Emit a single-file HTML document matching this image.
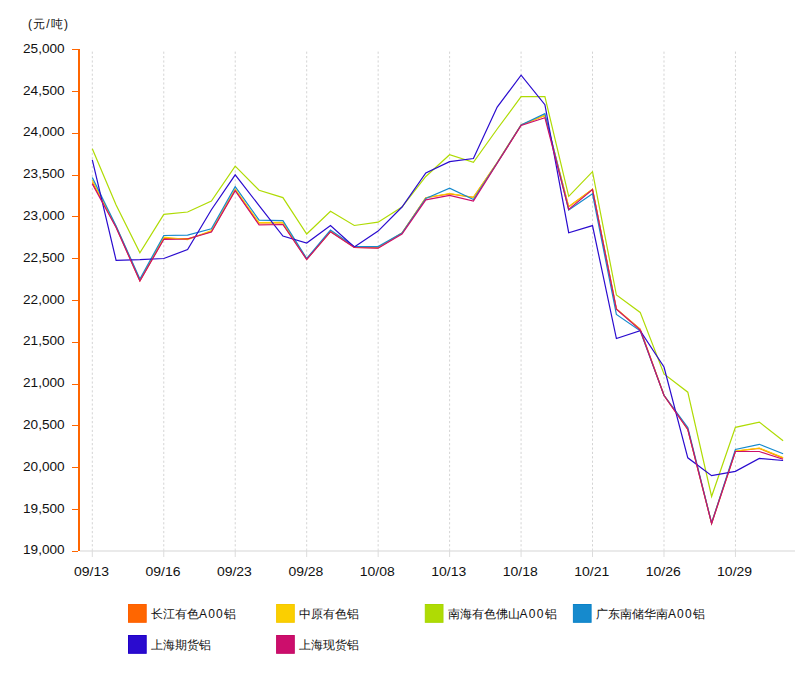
<!DOCTYPE html>
<html><head><meta charset="utf-8"><style>
html,body{margin:0;padding:0;background:#fff;width:808px;height:693px;overflow:hidden}
svg{display:block;font-family:"Liberation Sans",sans-serif;fill:#111}
text{fill:#111}
</style></head><body>
<svg width="808" height="693" viewBox="0 0 808 693">
<line x1="92.31" y1="51.6" x2="92.31" y2="549" stroke="#d4d4d4" stroke-width="1" stroke-dasharray="2.2,2.198"/>
<line x1="163.77" y1="51.6" x2="163.77" y2="549" stroke="#d4d4d4" stroke-width="1" stroke-dasharray="2.2,2.198"/>
<line x1="235.23" y1="51.6" x2="235.23" y2="549" stroke="#d4d4d4" stroke-width="1" stroke-dasharray="2.2,2.198"/>
<line x1="306.69" y1="51.6" x2="306.69" y2="549" stroke="#d4d4d4" stroke-width="1" stroke-dasharray="2.2,2.198"/>
<line x1="378.15" y1="51.6" x2="378.15" y2="549" stroke="#d4d4d4" stroke-width="1" stroke-dasharray="2.2,2.198"/>
<line x1="449.61" y1="51.6" x2="449.61" y2="549" stroke="#d4d4d4" stroke-width="1" stroke-dasharray="2.2,2.198"/>
<line x1="521.07" y1="51.6" x2="521.07" y2="549" stroke="#d4d4d4" stroke-width="1" stroke-dasharray="2.2,2.198"/>
<line x1="592.53" y1="51.6" x2="592.53" y2="549" stroke="#d4d4d4" stroke-width="1" stroke-dasharray="2.2,2.198"/>
<line x1="663.99" y1="51.6" x2="663.99" y2="549" stroke="#d4d4d4" stroke-width="1" stroke-dasharray="2.2,2.198"/>
<line x1="735.45" y1="51.6" x2="735.45" y2="549" stroke="#d4d4d4" stroke-width="1" stroke-dasharray="2.2,2.198"/>
<line x1="80" y1="551" x2="795.0" y2="551" stroke="#e3e3e3" stroke-width="1.6"/>
<line x1="92.31" y1="549" x2="92.31" y2="557" stroke="#dcdcdc" stroke-width="1"/>
<line x1="163.77" y1="549" x2="163.77" y2="557" stroke="#dcdcdc" stroke-width="1"/>
<line x1="235.23" y1="549" x2="235.23000000000002" y2="557" stroke="#dcdcdc" stroke-width="1"/>
<line x1="306.69" y1="549" x2="306.69" y2="557" stroke="#dcdcdc" stroke-width="1"/>
<line x1="378.15" y1="549" x2="378.15" y2="557" stroke="#dcdcdc" stroke-width="1"/>
<line x1="449.61" y1="549" x2="449.61" y2="557" stroke="#dcdcdc" stroke-width="1"/>
<line x1="521.07" y1="549" x2="521.07" y2="557" stroke="#dcdcdc" stroke-width="1"/>
<line x1="592.53" y1="549" x2="592.53" y2="557" stroke="#dcdcdc" stroke-width="1"/>
<line x1="663.99" y1="549" x2="663.99" y2="557" stroke="#dcdcdc" stroke-width="1"/>
<line x1="735.45" y1="549" x2="735.4499999999999" y2="557" stroke="#dcdcdc" stroke-width="1"/>
<polyline points="92.3,182.5 116.1,227.0 139.9,281.0 163.8,238.6 187.6,238.7 211.4,231.5 235.2,190.0 259.1,224.0 282.9,224.0 306.7,259.3 330.5,231.5 354.3,247.5 378.1,248.0 402.0,233.1 425.8,197.7 449.6,193.8 473.4,197.4 497.2,162.5 521.1,124.9 544.9,115.4 568.7,206.8 592.5,189.2 616.4,309.0 640.2,329.1 664.0,395.3 687.8,429.3 711.6,523.3 735.4,451.2 759.3,448.4 783.1,458.1" fill="none" stroke="#ff6600" stroke-width="1.2" stroke-linejoin="miter"/>
<polyline points="92.3,180.3 116.1,226.5 139.9,280.0 163.8,237.2 187.6,239.7 211.4,230.5 235.2,189.0 259.1,222.7 282.9,222.4 306.7,259.0 330.5,231.0 354.3,247.0 378.1,247.5 402.0,233.0 425.8,197.7 449.6,193.5 473.4,197.4 497.2,162.5 521.1,124.9 544.9,115.4 568.7,206.8 592.5,189.2 616.4,309.0 640.2,329.5 664.0,395.3 687.8,429.0 711.6,523.3 735.4,451.0 759.3,448.0 783.1,457.5" fill="none" stroke="#fbcf00" stroke-width="1.2" stroke-linejoin="miter"/>
<polyline points="92.3,148.7 116.1,205.0 139.9,252.8 163.8,214.4 187.6,212.0 211.4,201.1 235.2,166.1 259.1,190.2 282.9,197.6 306.7,234.0 330.5,211.2 354.3,225.5 378.1,222.2 402.0,207.1 425.8,176.5 449.6,154.8 473.4,162.4 497.2,129.0 521.1,96.7 544.9,96.7 568.7,196.4 592.5,171.7 616.4,295.0 640.2,312.4 664.0,374.0 687.8,392.2 711.6,496.5 735.4,427.3 759.3,422.1 783.1,440.8" fill="none" stroke="#afdb04" stroke-width="1.2" stroke-linejoin="miter"/>
<polyline points="92.3,177.4 116.1,226.0 139.9,279.0 163.8,235.5 187.6,235.2 211.4,228.8 235.2,186.7 259.1,220.1 282.9,220.6 306.7,258.5 330.5,230.0 354.3,246.5 378.1,246.6 402.0,233.0 425.8,198.4 449.6,188.1 473.4,199.6 497.2,162.8 521.1,124.9 544.9,113.7 568.7,210.0 592.5,193.8 616.4,314.5 640.2,330.8 664.0,395.3 687.8,427.5 711.6,523.0 735.4,449.4 759.3,444.3 783.1,453.8" fill="none" stroke="#168acd" stroke-width="1.2" stroke-linejoin="miter"/>
<polyline points="92.3,159.9 116.1,260.3 139.9,259.7 163.8,258.5 187.6,249.6 211.4,209.7 235.2,174.8 259.1,205.6 282.9,236.1 306.7,243.0 330.5,225.5 354.3,246.9 378.1,231.1 402.0,207.0 425.8,172.9 449.6,161.7 473.4,158.5 497.2,107.1 521.1,75.2 544.9,104.7 568.7,232.7 592.5,225.6 616.4,338.5 640.2,330.7 664.0,367.0 687.8,457.8 711.6,475.7 735.4,471.4 759.3,458.4 783.1,460.5" fill="none" stroke="#2a0bcf" stroke-width="1.2" stroke-linejoin="miter"/>
<polyline points="92.3,184.0 116.1,227.5 139.9,281.0 163.8,239.3 187.6,239.0 211.4,232.0 235.2,190.7 259.1,225.0 282.9,224.5 306.7,259.5 330.5,231.7 354.3,247.5 378.1,248.2 402.0,234.0 425.8,199.9 449.6,195.3 473.4,201.1 497.2,163.2 521.1,125.5 544.9,117.7 568.7,209.4 592.5,189.5 616.4,309.2 640.2,330.0 664.0,395.5 687.8,429.5 711.6,523.5 735.4,451.5 759.3,451.5 783.1,459.3" fill="none" stroke="#cc0e6c" stroke-width="1.2" stroke-linejoin="miter"/>
<line x1="79" y1="49" x2="79" y2="551" stroke="#ff6600" stroke-width="2"/>
<line x1="72" y1="49.5" x2="78" y2="49.5" stroke="#ff6600" stroke-width="1"/>
<text x="64.6" y="52.8" text-anchor="end" font-size="12" textLength="41.6" lengthAdjust="spacingAndGlyphs">25,000</text>
<line x1="72" y1="91.5" x2="78" y2="91.5" stroke="#ff6600" stroke-width="1"/>
<text x="64.6" y="94.6" text-anchor="end" font-size="12" textLength="41.6" lengthAdjust="spacingAndGlyphs">24,500</text>
<line x1="72" y1="133.5" x2="78" y2="133.5" stroke="#ff6600" stroke-width="1"/>
<text x="64.6" y="136.4" text-anchor="end" font-size="12" textLength="41.6" lengthAdjust="spacingAndGlyphs">24,000</text>
<line x1="72" y1="175.5" x2="78" y2="175.5" stroke="#ff6600" stroke-width="1"/>
<text x="64.6" y="178.2" text-anchor="end" font-size="12" textLength="41.6" lengthAdjust="spacingAndGlyphs">23,500</text>
<line x1="72" y1="216.5" x2="78" y2="216.5" stroke="#ff6600" stroke-width="1"/>
<text x="64.6" y="220.0" text-anchor="end" font-size="12" textLength="41.6" lengthAdjust="spacingAndGlyphs">23,000</text>
<line x1="72" y1="258.5" x2="78" y2="258.5" stroke="#ff6600" stroke-width="1"/>
<text x="64.6" y="261.8" text-anchor="end" font-size="12" textLength="41.6" lengthAdjust="spacingAndGlyphs">22,500</text>
<line x1="72" y1="300.5" x2="78" y2="300.5" stroke="#ff6600" stroke-width="1"/>
<text x="64.6" y="303.5" text-anchor="end" font-size="12" textLength="41.6" lengthAdjust="spacingAndGlyphs">22,000</text>
<line x1="72" y1="342.5" x2="78" y2="342.5" stroke="#ff6600" stroke-width="1"/>
<text x="64.6" y="345.3" text-anchor="end" font-size="12" textLength="41.6" lengthAdjust="spacingAndGlyphs">21,500</text>
<line x1="72" y1="384.5" x2="78" y2="384.5" stroke="#ff6600" stroke-width="1"/>
<text x="64.6" y="387.1" text-anchor="end" font-size="12" textLength="41.6" lengthAdjust="spacingAndGlyphs">21,000</text>
<line x1="72" y1="425.5" x2="78" y2="425.5" stroke="#ff6600" stroke-width="1"/>
<text x="64.6" y="428.9" text-anchor="end" font-size="12" textLength="41.6" lengthAdjust="spacingAndGlyphs">20,500</text>
<line x1="72" y1="467.5" x2="78" y2="467.5" stroke="#ff6600" stroke-width="1"/>
<text x="64.6" y="470.7" text-anchor="end" font-size="12" textLength="41.6" lengthAdjust="spacingAndGlyphs">20,000</text>
<line x1="72" y1="509.5" x2="78" y2="509.5" stroke="#ff6600" stroke-width="1"/>
<text x="64.6" y="512.5" text-anchor="end" font-size="12" textLength="41.6" lengthAdjust="spacingAndGlyphs">19,500</text>
<line x1="72" y1="551.5" x2="78" y2="551.5" stroke="#ff6600" stroke-width="1"/>
<text x="64.6" y="554.3" text-anchor="end" font-size="12" textLength="41.6" lengthAdjust="spacingAndGlyphs">19,000</text>
<text x="91.5" y="576" text-anchor="middle" font-size="12" textLength="35" lengthAdjust="spacingAndGlyphs">09/13</text>
<text x="163.0" y="576" text-anchor="middle" font-size="12" textLength="35" lengthAdjust="spacingAndGlyphs">09/16</text>
<text x="234.4" y="576" text-anchor="middle" font-size="12" textLength="35" lengthAdjust="spacingAndGlyphs">09/23</text>
<text x="305.9" y="576" text-anchor="middle" font-size="12" textLength="35" lengthAdjust="spacingAndGlyphs">09/28</text>
<text x="377.3" y="576" text-anchor="middle" font-size="12" textLength="35" lengthAdjust="spacingAndGlyphs">10/08</text>
<text x="448.8" y="576" text-anchor="middle" font-size="12" textLength="35" lengthAdjust="spacingAndGlyphs">10/13</text>
<text x="520.3" y="576" text-anchor="middle" font-size="12" textLength="35" lengthAdjust="spacingAndGlyphs">10/18</text>
<text x="591.7" y="576" text-anchor="middle" font-size="12" textLength="35" lengthAdjust="spacingAndGlyphs">10/21</text>
<text x="663.2" y="576" text-anchor="middle" font-size="12" textLength="35" lengthAdjust="spacingAndGlyphs">10/26</text>
<text x="734.6" y="576" text-anchor="middle" font-size="12" textLength="35" lengthAdjust="spacingAndGlyphs">10/29</text>
<text x="28" y="27.5" font-size="12" textLength="40" lengthAdjust="spacing">(元/吨)</text>
<rect x="128.5" y="604.5" width="17.7" height="17.8" fill="#ff6600" stroke="#ff5f00" stroke-width="1"/>
<text x="151.0" y="618" font-size="12">长江有色<tspan letter-spacing="1.2">A00</tspan>铝</text>
<rect x="276.6" y="604.5" width="17.7" height="17.8" fill="#fbcf00" stroke="#f5c800" stroke-width="1"/>
<text x="299.3" y="618" font-size="12">中原有色铝</text>
<rect x="425.3" y="604.5" width="17.7" height="17.8" fill="#afdb04" stroke="#a6d600" stroke-width="1"/>
<text x="447.6" y="618" font-size="12">南海有色佛山<tspan letter-spacing="1.2">A00</tspan>铝</text>
<rect x="573.4" y="604.5" width="17.7" height="17.8" fill="#168acd" stroke="#0a82c8" stroke-width="1"/>
<text x="595.9" y="618" font-size="12">广东南储华南<tspan letter-spacing="1.2">A00</tspan>铝</text>
<rect x="128.5" y="635.5" width="17.7" height="17.8" fill="#2a0bcf" stroke="#2000c8" stroke-width="1"/>
<text x="151.0" y="649" font-size="12">上海期货铝</text>
<rect x="276.6" y="635.5" width="17.7" height="17.8" fill="#cc0e6c" stroke="#c40a64" stroke-width="1"/>
<text x="299.3" y="649" font-size="12">上海现货铝</text>
</svg>
</body></html>
